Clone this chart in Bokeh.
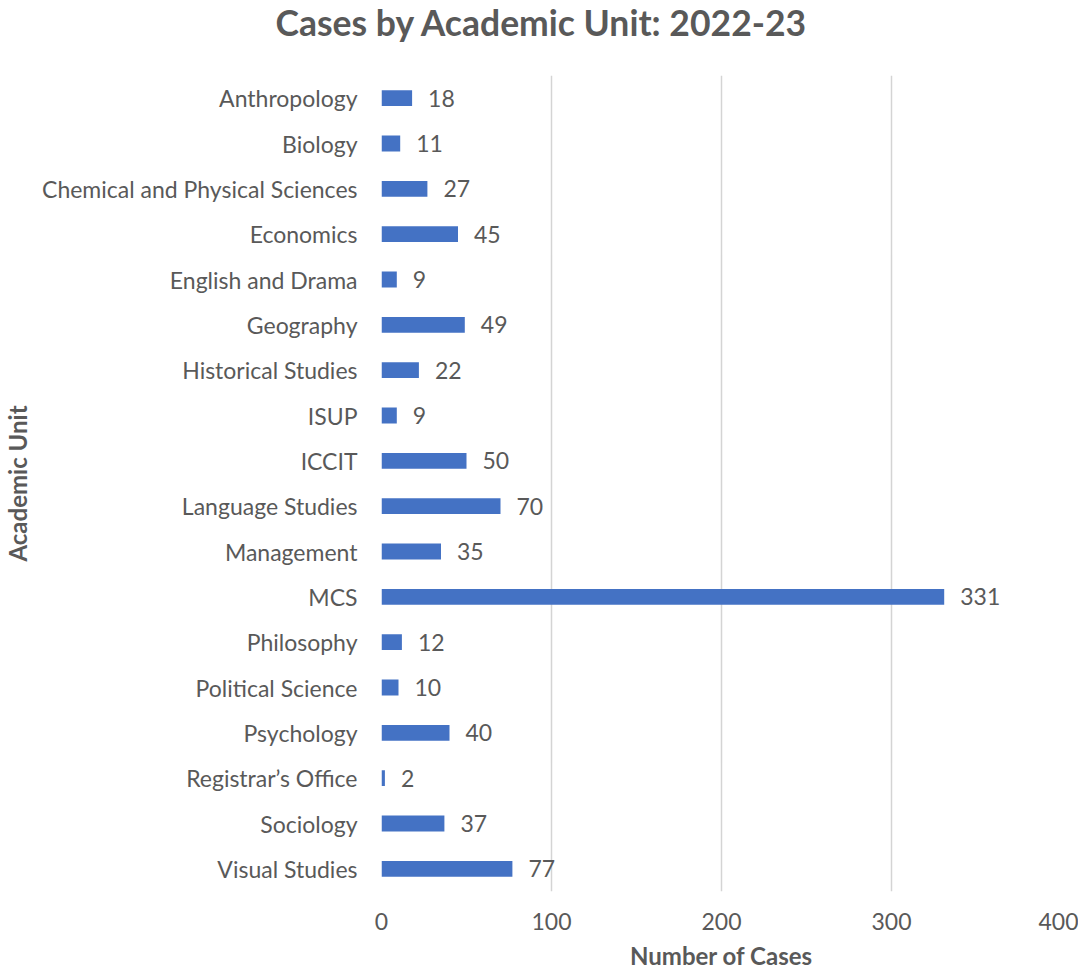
from bokeh.plotting import figure
from bokeh.models import Range1d, FactorRange, ColumnDataSource, FixedTicker, Title
from bokeh.core.properties import value
from bokeh.embed import file_html
from bokeh.resources import INLINE

units = ["Anthropology", "Biology", "Chemical and Physical Sciences", "Economics",
         "English and Drama", "Geography", "Historical Studies", "ISUP", "ICCIT",
         "Language Studies", "Management", "MCS", "Philosophy", "Political Science",
         "Psychology", "Registrar\u2019s Office", "Sociology", "Visual Studies"]
cases = [18, 11, 27, 45, 9, 49, 22, 9, 50, 70, 35, 331, 12, 10, 40, 2, 37, 77]
x_ticks = [0, 100, 200, 300, 400]
chart_title = "Cases by Academic Unit: 2022-23"

FONT = "Lato"
GRAY = "#595959"
BLUE = "#4472C4"

src = ColumnDataSource(dict(unit=units, cases=cases, label=[str(c) for c in cases]))

W, H = 1078, 972
p = figure(width=W, height=H, output_backend="svg", toolbar_location=None,
           y_range=FactorRange(*list(reversed(units))), x_range=Range1d(0, 400),
           min_border_left=381, min_border_right=17, min_border_top=0, min_border_bottom=81)
p.outline_line_color = None
p.background_fill_color = "white"

# spacer (nearest the frame) then the real title (outermost)
spacer = Title(text=" ", text_font=FONT, text_font_size="10px", standoff=16)
p.add_layout(spacer, "above")
main_title = Title(text=chart_title, align="left", offset=-106, vertical_align="top",
                   standoff=0, text_font=FONT, text_font_size="35.5px",
                   text_font_style="bold", text_color=GRAY)
p.add_layout(main_title, "above")

p.hbar(y="unit", right="cases", left=0, height=0.35, source=src, fill_color=BLUE,
       line_color=None)
p.text(x="cases", y="unit", text="label", source=src, x_offset=16,
       text_baseline="middle", text_align="left", text_font_size="23px",
       text_color=GRAY, text_font=value(FONT))

p.xaxis.ticker = FixedTicker(ticks=x_ticks)
p.xaxis.axis_line_color = None
p.xaxis.major_tick_line_color = None
p.xaxis.minor_tick_line_color = None
p.xaxis.major_label_text_font = FONT
p.xaxis.major_label_text_font_size = "23px"
p.xaxis.major_label_text_color = GRAY
p.xaxis.major_label_standoff = 15
p.xaxis.axis_label = "Number of Cases"
p.xaxis.axis_label_text_font = FONT
p.xaxis.axis_label_text_font_size = "24px"
p.xaxis.axis_label_text_font_style = "bold"
p.xaxis.axis_label_text_color = GRAY
p.xaxis.axis_label_standoff = 8

p.yaxis.axis_line_color = None
p.yaxis.major_tick_line_color = None
p.yaxis.minor_tick_line_color = None
p.yaxis.major_label_text_font = FONT
p.yaxis.major_label_text_font_size = "23px"
p.yaxis.major_label_text_color = GRAY
p.yaxis.major_label_standoff = 18
p.yaxis.axis_label = "Academic Unit"
p.yaxis.axis_label_text_font = FONT
p.yaxis.axis_label_text_font_size = "24px"
p.yaxis.axis_label_text_font_style = "bold"
p.yaxis.axis_label_text_color = GRAY
p.yaxis.axis_label_standoff = 7

p.xgrid.grid_line_color = "#D4D4D4"
p.xgrid.grid_line_width = 1.5
p.ygrid.grid_line_color = None

open("out.html", "w").write(file_html(p, INLINE))
